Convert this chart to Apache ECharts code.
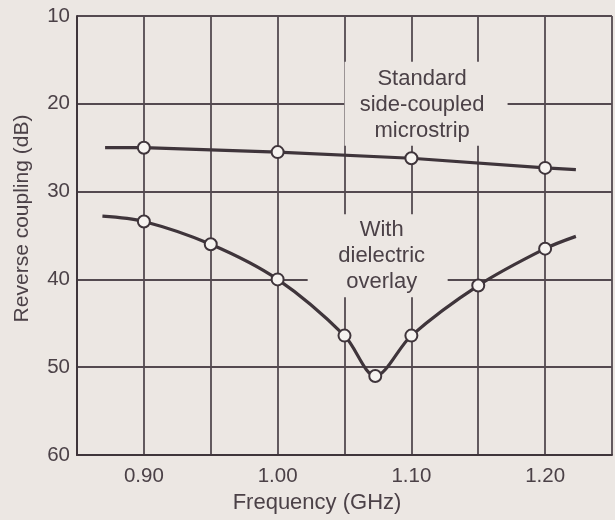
<!DOCTYPE html>
<html>
<head>
<meta charset="utf-8">
<script src="https://cdn.jsdelivr.net/npm/echarts@6/dist/echarts.min.js"></script>
<style>
  html, body { margin: 0; padding: 0; background: #ece7e3; }
  #chart { width: 615px; height: 520px; }
</style>
</head>
<body>
<div id="chart"></div>
<script>
var stdFreq = [0.871, 0.90, 1.00, 1.10, 1.20, 1.223];
var stdVals = [25.0, 25.0, 25.5, 26.2, 27.3, 27.5];
var stdMarked = [false, true, true, true, true, false];

var dielFreq = [0.869, 0.90, 0.95, 1.00, 1.05, 1.073, 1.10, 1.15, 1.20, 1.223];
var dielVals = [32.8, 33.4, 36.0, 40.0, 46.4, 51.0, 46.4, 40.7, 36.5, 35.1];
var dielMarked = [false, true, true, true, true, true, true, true, true, false];

var xTickLabels = ['0.90', '1.00', '1.10', '1.20'];
var yTicks = [10, 20, 30, 40, 50, 60];

var bg = '#ece7e3';
var ink = '#3f353b';
var textInk = '#4b4147';
var font = '"Liberation Sans", Arial, sans-serif';

function toData(xs, ys, marked) {
    return xs.map(function (x, i) {
        var item = { value: [x, ys[i]] };
        if (!marked[i]) item.symbol = 'none';
        return item;
    });
}

function noteBox(coord, size, text, offset) {
    return {
        coord: coord,
        symbol: 'rect',
        symbolSize: size,
        itemStyle: { color: bg },
        label: {
            show: true,
            position: 'inside',
            offset: offset,
            formatter: text,
            color: textInk,
            fontFamily: font,
            fontSize: 22,
            lineHeight: 26,
            align: 'center'
        }
    };
}

var chart = echarts.init(document.getElementById('chart'));

var option = {
    backgroundColor: bg,
    animation: false,
    grid: { left: 77, top: 16, right: -5, bottom: 65 },
    xAxis: {
        type: 'value',
        min: 0.85,
        max: 1.25,
        interval: 0.05,
        name: 'Frequency (GHz)',
        nameLocation: 'middle',
        nameGap: 32,
        nameTextStyle: { color: textInk, fontFamily: font, fontSize: 22, padding: [0, 55, 0, 0] },
        axisLine: { show: true, lineStyle: { color: ink, width: 2 } },
        axisTick: { show: false },
        axisLabel: {
            margin: 11,
            color: textInk,
            fontFamily: font,
            fontSize: 20.5,
            formatter: function (v) {
                var s = v.toFixed(2);
                return xTickLabels.indexOf(s) >= 0 ? s : '';
            }
        },
        splitLine: { show: true, lineStyle: { color: '#544a50', width: 1.8 } }
    },
    yAxis: {
        type: 'value',
        inverse: true,
        min: yTicks[0],
        max: yTicks[yTicks.length - 1],
        interval: 10,
        name: 'Reverse coupling (dB)',
        nameLocation: 'middle',
        nameGap: 44,
        nameTextStyle: { color: textInk, fontFamily: font, fontSize: 21, padding: [0, 0, 0, 34] },
        axisLine: { show: true, lineStyle: { color: ink, width: 2 } },
        axisTick: { show: false },
        axisLabel: { margin: 7, color: textInk, fontFamily: font, fontSize: 20.5 },
        splitLine: { show: true, lineStyle: { color: '#544a50', width: 1.8 } }
    },
    series: [
        {
            name: 'Standard side-coupled microstrip',
            type: 'line',
            data: toData(stdFreq, stdVals, stdMarked),
            symbol: 'circle',
            symbolSize: 12,
            lineStyle: { color: ink, width: 3.2 },
            itemStyle: { color: '#f6f3f0', borderColor: ink, borderWidth: 2 },
            z: 3,
            markPoint: {
                silent: true,
                data: [
                    noteBox([1.111, 20.0], [163, 84], 'Standard\nside-coupled\nmicrostrip', [-4, 1])
                ]
            }
        },
        {
            name: 'With dielectric overlay',
            type: 'line',
            smooth: 0.32,
            data: toData(dielFreq, dielVals, dielMarked),
            symbol: 'circle',
            symbolSize: 12,
            lineStyle: { color: ink, width: 3.2 },
            itemStyle: { color: '#f6f3f0', borderColor: ink, borderWidth: 2 },
            z: 3,
            markPoint: {
                silent: true,
                data: [
                    noteBox([1.0748, 37.3], [140, 83], 'With\ndielectric\noverlay', [4, 0])
                ]
            }
        }
    ]
};

chart.setOption(option);
</script>
</body>
</html>
